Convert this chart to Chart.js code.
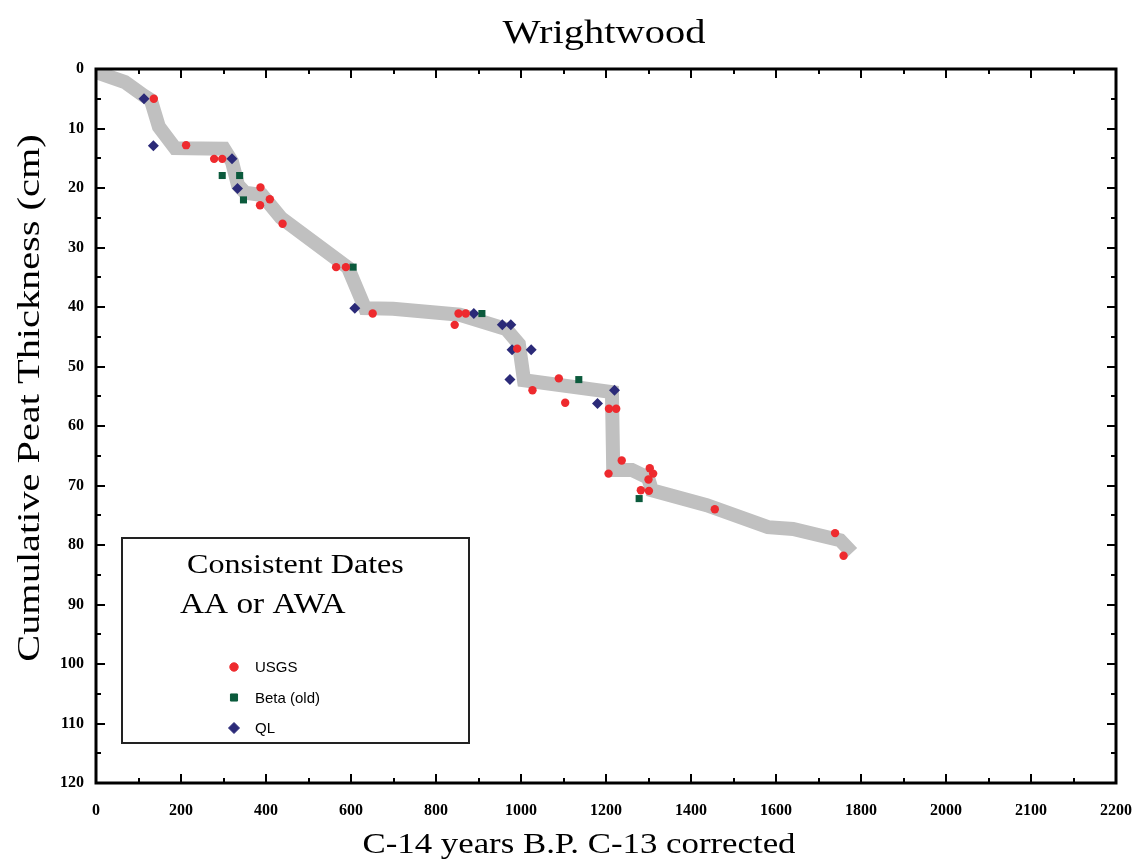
<!DOCTYPE html>
<html lang="en">
<head>
    <meta charset="utf-8">
    <title>Wrightwood</title>
<script src="https://cdn.jsdelivr.net/npm/chart.js@4.4.0/dist/chart.umd.min.js"></script>
<style>
  html, body { margin: 0; padding: 0; background: #fff; }
  #wrap { width: 1144px; height: 866px; }
</style>
</head>

<body>
<div id="wrap"><canvas id="mycanvas"></canvas></div>

<script>
// ---- data ----
var xTickLabels = ['0','200','400','600','800','1000','1200','1400','1600','1800','2000','2100','2200'];
var yTickLabels = ['0','10','20','30','40','50','60','70','80','90','100','110','120'];

// grey consistent-dates band
var bandYears = [0, 68, 111, 129, 148, 186, 301, 320, 334, 351, 391, 435, 593, 633, 699, 856, 965, 995, 1007, 1214, 1217, 1261, 1299, 1308, 1437, 1581, 1640, 1751, 1779];
var bandDepth = [0.5, 2.2, 4.4, 5.2, 9.7, 13.3, 13.4, 15.6, 19.5, 20.8, 21.2, 25.0, 33.4, 40.2, 40.3, 41.3, 43.7, 46.2, 52.3, 54.3, 67.4, 67.4, 68.7, 70.8, 73.3, 77.0, 77.3, 79.2, 81.3];

var usgsYears = [136, 212, 278, 297, 387, 409, 386, 439, 565, 588, 651, 853, 870, 844, 991, 1089, 1027, 1104, 1207, 1224, 1237, 1206, 1303, 1311, 1300, 1282, 1301, 1456, 1739, 1759];
var usgsDepth = [5, 12.8, 15.1, 15.1, 19.9, 21.9, 22.9, 26, 33.3, 33.3, 41.1, 41.1, 41.1, 43, 47, 52, 54, 56.1, 57.1, 57.1, 65.8, 68, 67.1, 68, 69, 70.8, 70.9, 74, 78, 81.8];

var betaYears = [297, 338, 347, 605, 908, 1136, 1278];
var betaDepth = [17.9, 17.9, 22, 33.3, 41.1, 52.2, 72.2];

var qlYears = [113, 135, 320, 333, 609, 889, 956, 976, 979, 1024, 974, 1220, 1180];
var qlDepth = [5, 12.9, 15.1, 20.1, 40.2, 41.1, 43, 43, 47.2, 47.2, 52.2, 54, 56.2];

function pts(xs, ys) {
  var out = [];
  for (var i = 0; i < xs.length; i++) out.push({x: xs[i], y: ys[i]});
  return out;
}

var SERIF = '"Liberation Serif", "Times New Roman", serif';

// text stretched sideways, the original face is wider than Times
function wideText(ctx, txt, x, y, stretch) {
  ctx.save();
  ctx.translate(x, y);
  ctx.scale(stretch, 1);
  ctx.fillText(txt, 0, 0);
  ctx.restore();
}

// frame, inward ticks, titles and the boxed legend
var decor = {
  id: 'decor',
  afterDraw: function(chart) {
    var ctx = chart.ctx, ca = chart.chartArea;
    var xs = chart.scales.x, ys = chart.scales.y;
    ctx.save();
    ctx.strokeStyle = '#000';
    ctx.lineWidth = 3;
    ctx.strokeRect(ca.left, ca.top, ca.right - ca.left, ca.bottom - ca.top);

    ctx.lineWidth = 2;
    ctx.beginPath();
    for (var v = 100; v < 2400; v += 100) {
      var px = Math.round(xs.getPixelForValue(v));
      var len = (v % 200 === 0) ? 9 : 5;
      ctx.moveTo(px, ca.bottom); ctx.lineTo(px, ca.bottom - len);
      ctx.moveTo(px, ca.top); ctx.lineTo(px, ca.top + len);
    }
    for (var d = 5; d < 120; d += 5) {
      var py = Math.round(ys.getPixelForValue(d));
      var l2 = (d % 10 === 0) ? 9 : 5;
      ctx.moveTo(ca.left, py); ctx.lineTo(ca.left + l2, py);
      ctx.moveTo(ca.right, py); ctx.lineTo(ca.right - l2, py);
    }
    ctx.stroke();

    // titles
    ctx.fillStyle = '#000';
    ctx.textAlign = 'center';
    ctx.textBaseline = 'middle';
    ctx.font = '34px ' + SERIF;
    wideText(ctx, 'Wrightwood', 604, 34, 1.19);
    ctx.font = '30px ' + SERIF;
    wideText(ctx, 'C-14 years B.P. C-13 corrected', 579, 845, 1.16);
    ctx.save();
    ctx.translate(31, 398);
    ctx.rotate(-Math.PI / 2);
    ctx.font = '32px ' + SERIF;
    wideText(ctx, 'Cumulative Peat Thickness (cm)', 0, 0, 1.26);
    ctx.restore();

    // legend box
    ctx.lineWidth = 2;
    ctx.strokeStyle = '#222';
    ctx.strokeRect(122, 538, 347, 205);
    ctx.textAlign = 'left';
    ctx.font = '27px ' + SERIF;
    wideText(ctx, 'Consistent Dates', 187, 566, 1.19);
    ctx.font = '30px ' + SERIF;
    wideText(ctx, 'AA or AWA', 180, 605, 1.11);

    ctx.font = '15px "Liberation Sans", Arial, sans-serif';
    var ly = 667;
    [1, 2, 3].forEach(function(idx) {
      var ds = chart.data.datasets[idx];
      ctx.fillStyle = ds.backgroundColor;
      ctx.strokeStyle = ds.borderColor;
      ctx.lineWidth = 1;
      Chart.helpers.drawPoint(ctx, {pointStyle: ds.pointStyle, radius: ds.pointRadius, rotation: 0, borderWidth: 1}, 234, ly);
      ctx.fillStyle = '#000';
      ctx.fillText(ds.label, 255, ly + 1);
      ly += 30.5;
    });
    ctx.restore();
  }
};

var ctx = document.getElementById('mycanvas');

var chart = new Chart(ctx, {
  type: 'scatter',
  data: {
    datasets: [
      {
        label: 'band',
        data: pts(bandYears, bandDepth),
        showLine: true,
        borderColor: '#c0c0c0',
        backgroundColor: '#c0c0c0',
        borderWidth: 14,
        pointRadius: 0,
        borderJoinStyle: 'miter',
        borderCapStyle: 'butt',
        order: 10
      },
      {
        label: 'USGS',
        data: pts(usgsYears, usgsDepth),
        pointStyle: 'circle',
        pointRadius: 4.2,
        backgroundColor: '#ee2a2e',
        borderColor: '#ee2a2e',
        borderWidth: 0,
        order: 1
      },
      {
        label: 'Beta (old)',
        data: pts(betaYears, betaDepth),
        pointStyle: 'rect',
        pointRadius: 5,
        backgroundColor: '#0b5a3c',
        borderColor: '#0b5a3c',
        borderWidth: 0,
        order: 1
      },
      {
        label: 'QL',
        data: pts(qlYears, qlDepth),
        pointStyle: 'rectRot',
        pointRadius: 5.5,
        backgroundColor: '#2b2a78',
        borderColor: '#2b2a78',
        borderWidth: 0,
        order: 1
      }
    ]
  },
  options: {
    responsive: true,
    maintainAspectRatio: false,
    animation: false,
    layout: { padding: { top: 69, right: 28, left: 0, bottom: 0 } },
    plugins: {
      legend: { display: false },
      tooltip: { enabled: false },
      title: { display: false }
    },
    scales: {
      x: {
        type: 'linear',
        min: 0,
        max: 2400,
        grid: { display: false, drawTicks: false },
        border: { display: false },
        ticks: {
          stepSize: 200,
          padding: 18,
          maxRotation: 0,
          color: '#000',
          font: { family: SERIF, size: 16, weight: 'bold' },
          callback: function(v) { return xTickLabels[Math.round(v / 200)]; }
        },
        afterFit: function(s) { s.height = 83; s.paddingLeft = 0; s.paddingRight = 0; }
      },
      y: {
        type: 'linear',
        reverse: true,
        min: 0,
        max: 120,
        grid: { display: false, drawTicks: false },
        border: { display: false },
        ticks: {
          stepSize: 10,
          padding: 12,
          color: '#000',
          font: { family: SERIF, size: 16, weight: 'bold' },
          callback: function(v) { return yTickLabels[Math.round(v / 10)]; }
        },
        afterFit: function(s) { s.width = 96; s.paddingTop = 0; s.paddingBottom = 0; }
      }
    }
  },
  plugins: [decor]
});
</script>

</body>
</html>
